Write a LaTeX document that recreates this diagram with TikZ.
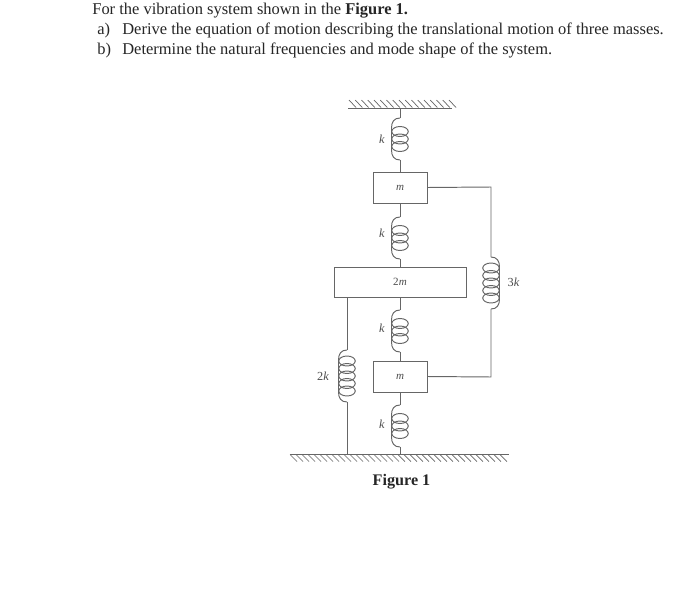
\documentclass[tikz,border=0pt]{standalone}
\usepackage{fontspec}
\setmainfont{Liberation Serif}
\tikzset{
	textline/.style={anchor=base west, inner sep=0pt, font=\fontsize{9.37pt}{10pt}\selectfont, text=black!85},
	mass/.style={draw=black!60, line width=0.55pt, minimum width=#1, inner sep=0pt, font=\fontsize{6.3pt}{7pt}\selectfont, text=black!70},
	label/.style={inner sep=0pt, font=\fontsize{7pt}{8pt}\selectfont, text=black!70},
	wire/.style={draw=black!60, line width=0.55pt},
	pics/coil/.style 2 args={code={
		\pgfmathsetmacro{\coilh}{.54+.1*#1}
		\coordinate (-top) at (0,0);
		\coordinate (-bot) at (0,-\coilh);
		\draw[wire] (0,0) .. controls (#2*.12,0) and (#2*.17,-.08) .. (#2*.17,-.2) -- (#2*.17,-\coilh+.2) .. controls (#2*.17,-\coilh+.08) and (#2*.12,-\coilh) .. (0,-\coilh);
		\foreach \i in {1,...,#1}
			\draw[wire] (0,{-\coilh/2+(\i-(#1+1)/2)*.15}) ellipse (.165 and .1);
	}},
}
\begin{document}
\begin{tikzpicture}
	\useasboundingbox (0,0) rectangle (14,-11.78);

	% question text
	\node[textline] (line1) at (1.84,-0.3) {For the vibration system shown in the \textbf{Figure 1.}};
	\node[textline] (tagA) at (1.94,-0.7) {a)};
	\node[textline] (lineA) at (2.44,-0.7) {Derive the equation of motion describing the translational motion of three masses.};
	\node[textline] (tagB) at (1.94,-1.1) {b)};
	\node[textline] (lineB) at (2.44,-1.1) {Determine the natural frequencies and mode shape of the system.};

	% masses
	\node[mass=1.08cm, minimum height=.62cm] (mtop) at (8,-3.75) {\textit{m}};
	\node[mass=2.64cm, minimum height=.6cm] (mmid) at (8,-5.64) {2\textit{m}};
	\node[mass=1.08cm, minimum height=.62cm] (mbot) at (8,-7.53) {\textit{m}};

	% supports
	\coordinate (ceilL) at (6.96,-2.16);
	\coordinate (ceilR) at (9.04,-2.16);
	\coordinate (ceilM) at (8,-2.16);
	\coordinate (gndL) at (5.8,-9.08);
	\coordinate (gndR) at (10.18,-9.08);
	\coordinate (gndM) at (8,-9.08);
	\coordinate (gndK) at (6.94,-9.08);
	\coordinate (twoK) at (6.94,-5.94);
	\coordinate (threeT) at (9.82,-3.74);
	\coordinate (threeB) at (9.82,-7.54);
	\draw[wire] (ceilL) -- (ceilR);
	\draw[wire] (gndL) -- (gndR);
	\foreach \x in {0,...,16}
		\draw[wire, line width=0.4pt] (6.98+\x*0.125,-2) -- ++(0.14,-0.15);
	\foreach \x in {0,...,35}
		\draw[wire, line width=0.4pt] (5.8+\x*0.12,-9.09) -- ++(0.14,-0.14);

	% springs
	\pic (s1) at (8,-2.36) {coil={3}{-1}};
	\pic (s2) at (8,-4.34) {coil={3}{-1}};
	\pic (s3) at (8,-6.2) {coil={3}{-1}};
	\pic (s4) at (8,-8.1) {coil={3}{-1}};
	\pic (s5) at (6.94,-7) {coil={5}{-1}};
	\pic (s6) at (9.82,-5.14) {coil={5}{1}};

	\draw[wire] (ceilM) -- (s1-top);
	\draw[wire] (s1-bot) -- (mtop.north);
	\draw[wire] (mtop.south) -- (s2-top);
	\draw[wire] (s2-bot) -- (mmid.north);
	\draw[wire] (mmid.south) -- (s3-top);
	\draw[wire] (s3-bot) -- (mbot.north);
	\draw[wire] (mbot.south) -- (s4-top);
	\draw[wire] (s4-bot) -- (gndM);
	\draw[wire] (twoK) -- (s5-top);
	\draw[wire] (s5-bot) -- (gndK);
	\draw[wire] (mtop.east) -- (threeT) -- (s6-top);
	\draw[wire] (s6-bot) -- (threeB) -- (mbot.east);

	% spring labels
	\node[label] (k1) at (7.64,-2.79) {\textit{k}};
	\node[label] (k2) at (7.64,-4.67) {\textit{k}};
	\node[label] (k3) at (7.64,-6.56) {\textit{k}};
	\node[label] (k4) at (7.64,-8.48) {\textit{k}};
	\node[label] (k5) at (6.46,-7.52) {2\textit{k}};
	\node[label] (k6) at (10.27,-5.65) {3\textit{k}};

	\node[textline, anchor=base, font=\bfseries\fontsize{9.2pt}{10pt}\selectfont] (figcap) at (8.03,-9.7) {Figure 1};
\end{tikzpicture}
\end{document}
